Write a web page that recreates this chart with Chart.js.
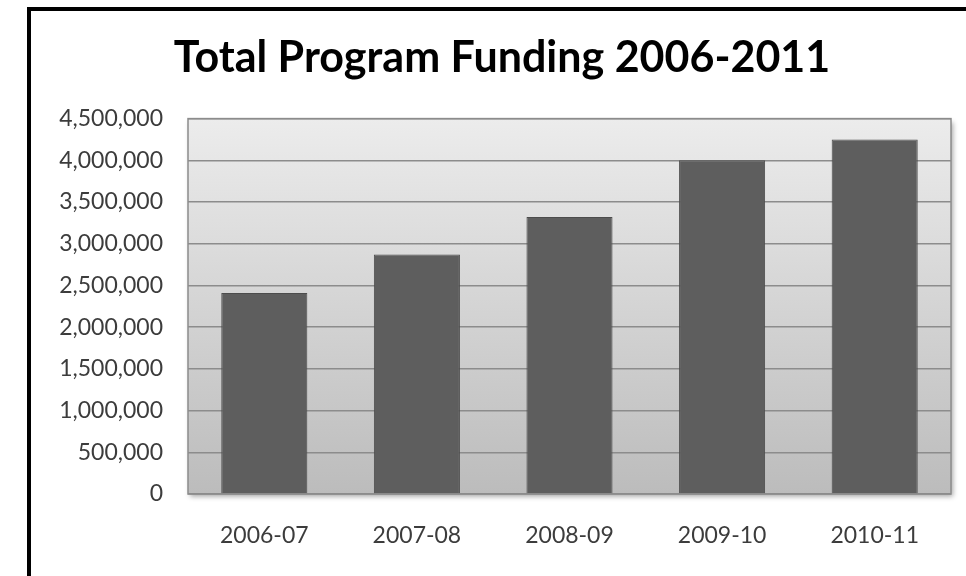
<!DOCTYPE html>
<html lang="en">

<head>
    <meta charset="UTF-8">
    <title>Total Program Funding</title>
    <script src="https://cdn.jsdelivr.net/npm/chart.js@4/dist/chart.umd.min.js"></script>
    <style>
        body { margin: 0; background: #ffffff; }
        #quadro {
            position: absolute; left: 0; top: 0; width: 966px; height: 576px; overflow: hidden;
        }
        #moldura {
            position: absolute; left: 27px; top: 7px; width: 1000px; height: 620px;
            border: 4px solid #000000;
        }
        #caixa { position: absolute; left: 0; top: 0; width: 966px; height: 576px; }
    </style>
</head>

<body>
    <div id="quadro">
        <div id="moldura"></div>
        <div id="caixa"><canvas id="grafico"></canvas></div>
    </div>

<script>
    var anos = ['2006-07', '2007-08', '2008-09', '2009-10', '2010-11'];
    var valores = [2410000, 2870000, 3320000, 4000000, 4250000];
    var eixoMin = 0;
    var eixoMax = 4500000;
    var eixoPasso = 500000;

    // gradient plot background with a soft drop shadow and a grey frame
    var fundoPlot = {
        id: 'fundoPlot',
        beforeDraw: function (chart) {
            var ctx = chart.ctx;
            var a = chart.chartArea;
            ctx.save();
            ctx.shadowColor = 'rgba(0,0,0,0.35)';
            ctx.shadowBlur = 5;
            ctx.shadowOffsetX = 2;
            ctx.shadowOffsetY = 3;
            var g = ctx.createLinearGradient(0, a.top, 0, a.bottom);
            g.addColorStop(0, '#ececec');
            g.addColorStop(1, '#bcbcbc');
            ctx.fillStyle = g;
            ctx.fillRect(a.left, a.top, a.right - a.left, a.bottom - a.top);
            ctx.restore();
        },
        beforeDatasetsDraw: function (chart) {
            var ctx = chart.ctx;
            var a = chart.chartArea;
            ctx.save();
            ctx.strokeStyle = '#8c8c8c';
            ctx.lineWidth = 1.5;
            ctx.strokeRect(a.left, a.top, a.right - a.left, a.bottom - a.top);
            ctx.restore();
        }
    };

    new Chart(document.getElementById('grafico'), {
        type: 'bar',
        data: {
            labels: anos,
            datasets: [{
                data: valores,
                backgroundColor: '#5e5e5e',
                borderColor: '#4c4c4c',
                borderWidth: 1,
                categoryPercentage: 1,
                barPercentage: 0.564
            }]
        },
        options: {
            responsive: true,
            maintainAspectRatio: false,
            animation: false,
            layout: { padding: { left: 53, right: 15, top: 10, bottom: 0 } },
            plugins: {
                legend: { display: false },
                tooltip: { enabled: false },
                title: {
                    display: true,
                    text: 'Total Program Funding 2006-2011',
                    color: '#000000',
                    font: { family: 'Lato', size: 43, weight: 'bold', lineHeight: 1.2 },
                    padding: { top: 22, bottom: 35 }
                }
            },
            scales: {
                x: {
                    grid: { display: false, drawTicks: false },
                    border: { display: false },
                    ticks: {
                        color: '#3c3c3c',
                        padding: 28,
                        font: { family: 'Lato', size: 23 }
                    },
                    afterFit: function (axis) { axis.height = 82; }
                },
                y: {
                    min: eixoMin,
                    max: eixoMax,
                    grid: { color: '#8c8c8c', lineWidth: 1.5, drawTicks: false },
                    border: { display: false },
                    ticks: {
                        stepSize: eixoPasso,
                        color: '#3c3c3c',
                        padding: 25,
                        font: { family: 'Lato', size: 23 },
                        callback: function (v) { return v.toLocaleString('en-US'); }
                    },
                    afterFit: function (axis) { axis.width = 135; }
                }
            }
        },
        plugins: [fundoPlot]
    });
</script>
</body>

</html>
